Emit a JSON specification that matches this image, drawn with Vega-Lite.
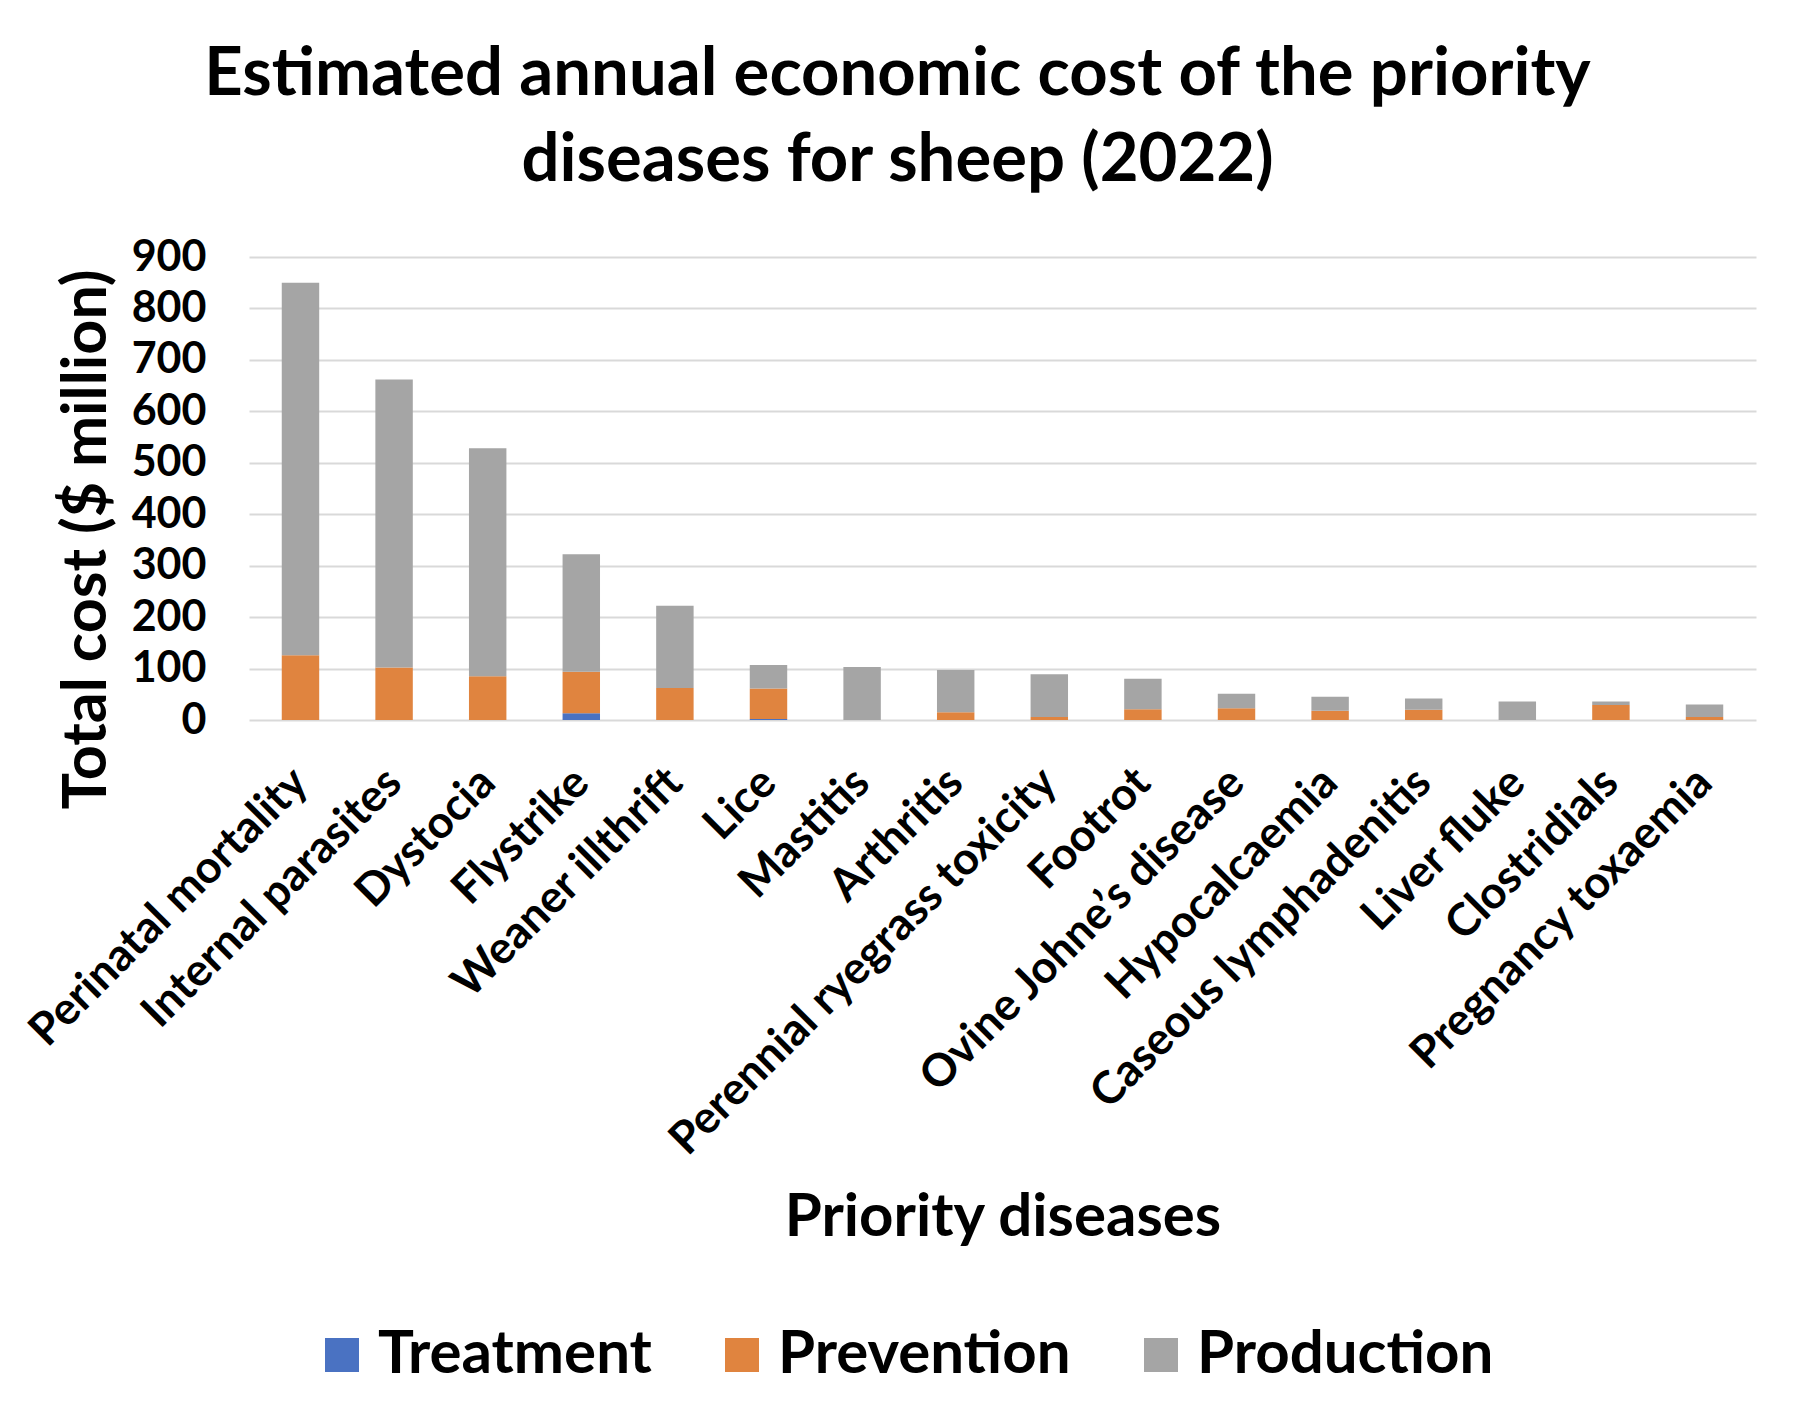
{
  "$schema": "https://vega.github.io/schema/vega-lite/v6.json",
  "width": 1507,
  "height": 463,
  "autosize": {"type": "none"},
  "padding": {"left": 249, "top": 257, "right": 38, "bottom": 698},
  "background": "white",
  "title": {
    "text": ["Estimated annual economic cost of the priority", "diseases for sheep (2022)"],
    "font": "Lato",
    "fontSize": 67,
    "fontWeight": "bold",
    "color": "black",
    "lineHeight": 86,
    "anchor": "middle",
    "dx": -105,
    "offset": 41
  },
  "data": {
    "values": [
      {"disease": "Perinatal mortality", "Treatment": 0, "Prevention": 126, "Production": 724},
      {"disease": "Internal parasites", "Treatment": 0, "Prevention": 102, "Production": 560},
      {"disease": "Dystocia", "Treatment": 0, "Prevention": 85, "Production": 443},
      {"disease": "Flystrike", "Treatment": 13, "Prevention": 81, "Production": 228},
      {"disease": "Weaner illthrift", "Treatment": 0, "Prevention": 62, "Production": 160},
      {"disease": "Lice", "Treatment": 2, "Prevention": 59, "Production": 46},
      {"disease": "Mastitis", "Treatment": 0, "Prevention": 0, "Production": 103},
      {"disease": "Arthritis", "Treatment": 0, "Prevention": 15, "Production": 82},
      {"disease": "Perennial ryegrass toxicity", "Treatment": 0, "Prevention": 6, "Production": 83},
      {"disease": "Footrot", "Treatment": 0, "Prevention": 21, "Production": 59},
      {"disease": "Ovine Johne’s disease", "Treatment": 0, "Prevention": 23, "Production": 28},
      {"disease": "Hypocalcaemia", "Treatment": 0, "Prevention": 18, "Production": 27},
      {"disease": "Caseous lymphadenitis", "Treatment": 0, "Prevention": 20, "Production": 22},
      {"disease": "Liver fluke", "Treatment": 0, "Prevention": 0, "Production": 36},
      {"disease": "Clostridials", "Treatment": 0, "Prevention": 29, "Production": 7},
      {"disease": "Pregnancy toxaemia", "Treatment": 0, "Prevention": 6, "Production": 24}
    ]
  },
  "transform": [
    {"fold": ["Treatment", "Prevention", "Production"], "as": ["type", "cost"]},
    {"window": [{"op": "row_number", "as": "stackRank"}], "groupby": ["disease"]}
  ],
  "mark": {"type": "bar"},
  "encoding": {
    "x": {
      "field": "disease",
      "type": "nominal",
      "sort": null,
      "scale": {"paddingInner": 0.6, "paddingOuter": 0.35},
      "axis": {
        "title": "Priority diseases",
        "titleFont": "Lato",
        "titleFontSize": 60,
        "titleFontWeight": "bold",
        "titleColor": "black",
        "titleBaseline": "alphabetic",
        "titleY": 515,
        "labelFont": "Lato",
        "labelFontSize": 45,
        "labelFontWeight": "bold",
        "labelColor": "black",
        "labelAngle": -45,
        "labelAlign": "right",
        "labelBaseline": "middle",
        "labelPadding": 55,
        "labelLimit": 1000,
        "ticks": false,
        "domain": false,
        "grid": false
      }
    },
    "y": {
      "field": "cost",
      "type": "quantitative",
      "stack": "zero",
      "scale": {"domain": [0, 900], "nice": false},
      "axis": {
        "title": "Total cost ($ million)",
        "titleFont": "Lato",
        "titleFontSize": 61,
        "titleFontWeight": "bold",
        "titleColor": "black",
        "titleX": -131,
        "titleY": 282,
        "titleAlign": "center",
        "titleAngle": -90,
        "titleBaseline": "bottom",
        "values": [0, 100, 200, 300, 400, 500, 600, 700, 800, 900],
        "labelFont": "Lato",
        "labelFontSize": 43,
        "labelFontWeight": "bold",
        "labelColor": "black",
        "labelPadding": 43,
        "ticks": false,
        "domain": false,
        "grid": true,
        "gridColor": "#D9D9D9",
        "gridWidth": 2
      }
    },
    "order": {"field": "stackRank", "type": "quantitative", "sort": "ascending"},
    "color": {
      "field": "type",
      "type": "nominal",
      "sort": ["Treatment", "Prevention", "Production"],
      "scale": {
        "domain": ["Treatment", "Prevention", "Production"],
        "range": ["#4A72C2", "#E0843F", "#A5A5A5"]
      },
      "legend": {
        "orient": "none",
        "legendX": 63,
        "legendY": 1068,
        "direction": "horizontal",
        "title": null,
        "symbolType": "square",
        "symbolSize": 1156,
        "symbolStrokeWidth": 0,
        "symbolOpacity": 1,
        "labelFont": "Lato",
        "labelFontSize": 60,
        "labelFontWeight": "bold",
        "labelColor": "black",
        "labelOffset": 6,
        "columnPadding": 60,
        "labelLimit": 1000
      }
    }
  },
  "config": {
    "view": {"stroke": null}
  }
}
